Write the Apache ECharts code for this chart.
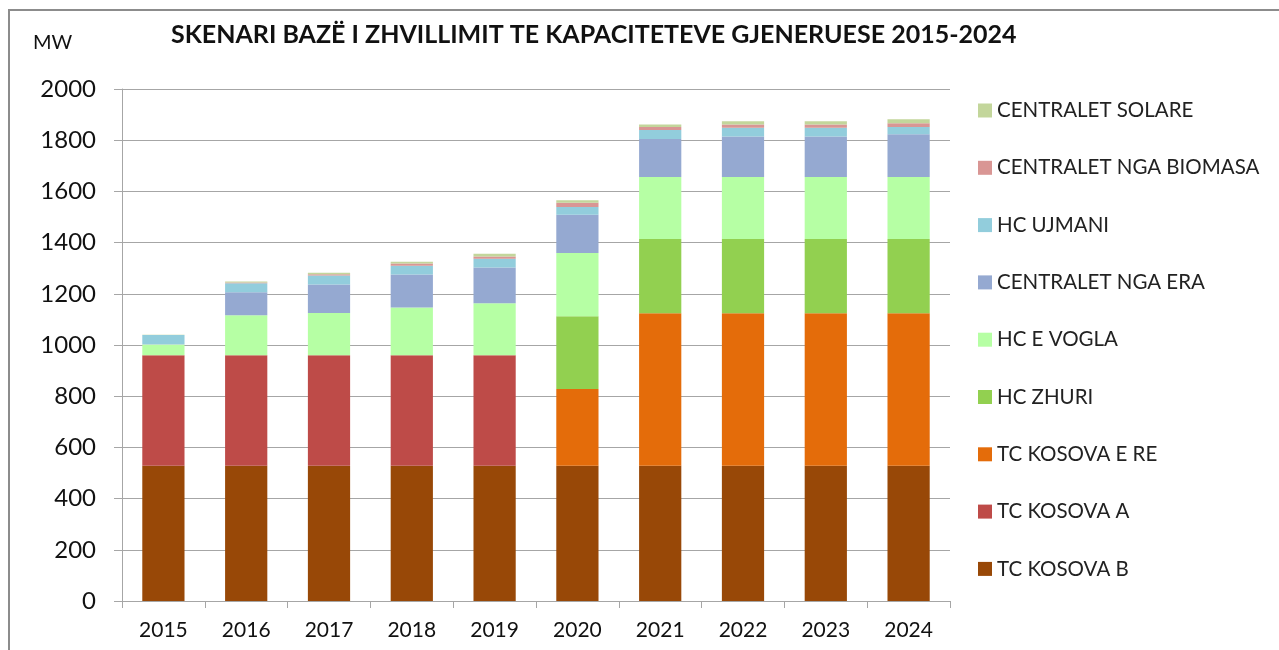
<!DOCTYPE html>
<html>
<head>
<meta charset="utf-8">
<script src="https://cdn.jsdelivr.net/npm/echarts@6/dist/echarts.min.js"></script>
<style>
html,body{margin:0;padding:0;background:#fff;}
#chart{width:1279px;height:650px;}
</style>
</head>
<body>
<div id="chart"></div>
<script>
const categories = ['2015','2016','2017','2018','2019','2020','2021','2022','2023','2024'];
const tcKosovaB   = [528,528,528,528,528,528,528,528,528,528];
const tcKosovaA   = [432,432,432,432,432,0,0,0,0,0];
const tcKosovaERe = [0,0,0,0,0,300,596,596,596,596];
const hcZhuri     = [0,0,0,0,0,284,290,290,290,290];
const hcEVogla    = [42,156,165,186,203,247,242,242,242,242];
const centraletEra = [1,90,111,129,140,150,149,158,158,167];
const hcUjmani    = [36,35,35,35,34,30,35,35,35,29];
const centraletBiomasa = [0,3,5,8,9,17,12,12,12,14];
const centraletSolare  = [1,4,6,7,10,9,9,13,13,16];

const seriesNames = ['TC KOSOVA B','TC KOSOVA A','TC KOSOVA E RE','HC ZHURI','HC E VOGLA','CENTRALET NGA ERA','HC UJMANI','CENTRALET NGA BIOMASA','CENTRALET SOLARE'];
const seriesData = [tcKosovaB,tcKosovaA,tcKosovaERe,hcZhuri,hcEVogla,centraletEra,hcUjmani,centraletBiomasa,centraletSolare];
const colors = ['#984807','#BE4B48','#E46C0A','#92D050','#B6FFA4','#95A9D1','#92CDDC','#D99694','#C3D69B'];

const FONT = 'Lato';
const chart = echarts.init(document.getElementById('chart'));
chart.setOption({
  animation: false,
  textStyle: {fontFamily: FONT},
  color: colors,
  title: {
    text: 'SKENARI BAZË I ZHVILLIMIT TE KAPACITETEVE GJENERUESE 2015-2024',
    left: 171, top: 22,
    padding: 0,
    textStyle: {fontFamily: FONT, fontSize: 25, fontWeight: 'bold', color: '#111'}
  },
  graphic: [
    {type:'rect', shape:{x:9,y:10,width:1290,height:660}, style:{fill:'none', stroke:'#8c8c8c', lineWidth:2}, silent:true},
    {type:'text', left:33, top:33, style:{text:'MW', font:'20px Lato', fill:'#111'}}
  ],
  legend: {
    orient: 'vertical',
    left: 978, top: 100,
    padding: 0,
    itemWidth: 14, itemHeight: 14, itemGap: 36.3,
    icon: 'rect',
    data: seriesNames.slice().reverse(),
    textStyle: {fontFamily: FONT, fontSize: 20.5, color: '#222', lineHeight: 20}
  },
  grid: {left: 122, right: 329, top: 89, bottom: 49, containLabel: false},
  xAxis: {
    type: 'category',
    data: categories,
    axisLine: {lineStyle: {color: '#a6a6a6', width: 1}},
    axisTick: {show: true, length: 7, lineStyle: {color: '#a6a6a6'}},
    axisLabel: {fontFamily: FONT, fontSize: 21, color: '#111', margin: 19}
  },
  yAxis: {
    type: 'value',
    min: 0, max: 2000, interval: 200,
    axisLine: {show: true, lineStyle: {color: '#a6a6a6', width: 1}},
    axisTick: {show: true, length: 8, lineStyle: {color: '#a6a6a6'}},
    axisLabel: {fontFamily: FONT, fontSize: 24, color: '#111', margin: 26, formatter: v => String(v)},
    splitLine: {lineStyle: {color: '#a6a6a6', width: 1}}
  },
  series: seriesNames.map((n, i) => ({
    name: n,
    type: 'bar',
    stack: 'total',
    barWidth: '51%',
    data: seriesData[i],
    itemStyle: {color: colors[i]}
  }))
});
</script>
</body>
</html>
